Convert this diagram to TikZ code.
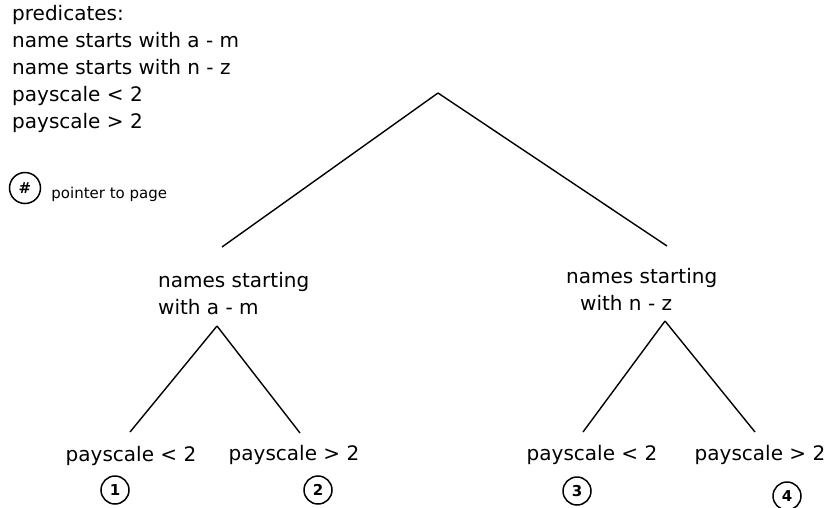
\documentclass[tikz,border=0pt]{standalone}
\usepackage{fontspec}
\setmainfont{DejaVu Sans}
\usetikzlibrary{positioning}

\tikzset{
  txt/.style={inner sep=0pt, anchor=west, font=\fontsize{20}{27}\selectfont},
  pagept/.style={draw, circle, line width=1.5pt, inner sep=0pt, minimum size=28pt, font=\fontsize{15}{15}\selectfont\bfseries},
  branch/.style={line width=1.4pt}
}

\begin{document}
\begin{tikzpicture}[x=1pt, y=-1pt]
  \useasboundingbox (0,0) rectangle (830,507);

  % legend
  \node [txt, align=left, anchor=north west] (preds) at (12,5)
    {predicates:\\name starts with a - m\\name starts with n - z\\payscale < 2\\payscale > 2};
  \node [pagept, minimum size=31pt] (hash) at (25,188) {\#};
  \node [txt, font=\fontsize{15}{15}\selectfont, right=10pt of hash, yshift=-6pt] (ptr) {pointer to page};

  % root
  \coordinate (root) at (438,93);
  \coordinate (rootl) at (222,247);
  \coordinate (rootr) at (667,246);
  \draw [branch] (root) -- (rootl);
  \draw [branch] (root) -- (rootr);

  % first level
  \node [txt, align=left] (am) at (158,294) {names starting\\with a - m};
  \node [txt, align=left] (nz) at (566,289) {names starting\\\hspace{14pt}with n - z};

  \coordinate (amtop) at (217,326);
  \coordinate (nztop) at (665,321);
  \draw [branch] (amtop) -- (130,432) coordinate (aml);
  \draw [branch] (amtop) -- (300,433) coordinate (amr);
  \draw [branch] (nztop) -- (583,432) coordinate (nzl);
  \draw [branch] (nztop) -- (755,432) coordinate (nzr);

  % leaves
  \node [txt, anchor=center] (lo1) at (131,456) {payscale < 2};
  \node [txt, anchor=center] (hi1) at (294,455) {payscale > 2};
  \node [txt, anchor=center] (lo2) at (592,455) {payscale < 2};
  \node [txt, anchor=center] (hi2) at (760,455) {payscale > 2};

  \node [pagept] (p1) at (115,490) {1};
  \node [pagept] (p2) at (318,490) {2};
  \node [pagept] (p3) at (577,491) {3};
  \node [pagept] (p4) at (787,496) {4};
\end{tikzpicture}
\end{document}
